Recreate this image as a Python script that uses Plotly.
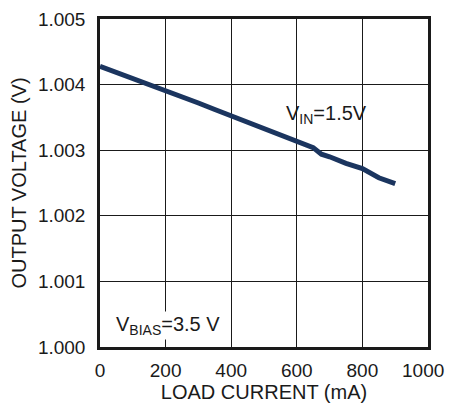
import plotly.graph_objects as go

load_current = [0, 50, 100, 150, 200, 250, 300, 350, 400, 450, 500, 550, 600, 650, 675, 700, 750, 800, 850, 900]
output_voltage = [1.00428, 1.00419, 1.00410, 1.00401, 1.00392, 1.00382, 1.00372, 1.00362, 1.00352, 1.00344,
                  1.00332, 1.00324, 1.00314, 1.00304, 1.00294, 1.00290, 1.00280, 1.00272, 1.00258, 1.00249]
x_ticks = [0, 200, 400, 600, 800, 1000]
x_tick_labels = ["0", "200", "400", "600", "800", "1000"]
y_ticks = [1.000, 1.001, 1.002, 1.003, 1.004, 1.005]
y_tick_labels = ["1.000", "1.001", "1.002", "1.003", "1.004", "1.005"]

FONT = "Liberation Sans, Arial, sans-serif"
TXT = "#1a1a1a"

fig = go.Figure()
fig.add_trace(go.Scatter(
    x=load_current, y=output_voltage, mode="lines",
    line=dict(color="#1b355f", width=5), showlegend=False, hoverinfo="skip",
))

axis_common = dict(
    showgrid=True, gridcolor=TXT, gridwidth=1.3,
    showline=True, linecolor=TXT, linewidth=2.5, mirror=True,
    zeroline=False, ticks="", automargin=False,
    tickfont=dict(family=FONT, size=19, color=TXT),
)

# last x tick label is drawn separately (right-aligned inside the page edge)
fig.update_xaxes(range=[0, 1000], tickvals=x_ticks, ticktext=x_tick_labels[:-1] + [""], ticklabelstandoff=4,
                 title=dict(text="LOAD CURRENT (mA)", font=dict(family=FONT, size=20, color=TXT), standoff=6),
                 **axis_common)
fig.update_yaxes(range=[1.000, 1.005], tickvals=y_ticks, ticktext=y_tick_labels, ticklabelstandoff=8,
                 title=dict(text="OUTPUT VOLTAGE (V)", font=dict(family=FONT, size=20, color=TXT), standoff=8),
                 **axis_common)

fig.add_annotation(x=x_ticks[-1], xref="x", y=0, yref="paper", text=x_tick_labels[-1], showarrow=False,
                   xanchor="center", yanchor="middle", xshift=-5, yshift=-23,
                   font=dict(family=FONT, size=19, color=TXT))

fig.add_annotation(x=692, y=1.00354, text="V<sub>IN</sub>=1.5V", showarrow=False,
                   font=dict(family=FONT, size=20, color=TXT))
fig.add_annotation(x=207, y=1.00033, text="V<sub>BIAS</sub>=3.5 V", showarrow=False,
                   bgcolor="white", font=dict(family=FONT, size=20, color=TXT))

fig.update_layout(
    width=445, height=396,
    margin=dict(l=92, r=25, t=11, b=57),
    paper_bgcolor="white", plot_bgcolor="white",
    font=dict(family=FONT, color=TXT),
)

fig.write_html("out.html")
